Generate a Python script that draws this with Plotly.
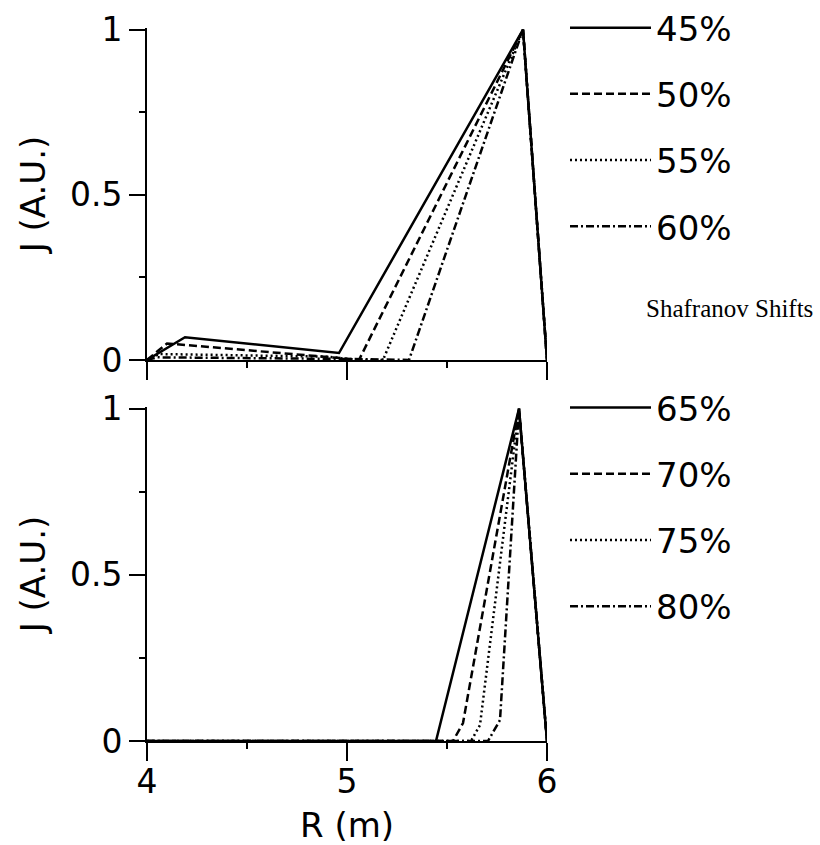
import plotly.graph_objects as go

# Top panel: Shafranov shifts 45-60 %
top_labels = ["45%", "50%", "55%", "60%"]
top_R = [
    [4.00, 4.19, 4.96, 5.88, 6.00],
    [4.00, 4.10, 4.98, 5.06, 5.88, 6.00],
    [4.00, 4.06, 4.90, 5.05, 5.18, 5.88, 6.00],
    [4.00, 4.05, 5.00, 5.31, 5.88, 6.00],
]
top_J = [
    [0.00, 0.069, 0.021, 1.00, 0.00],
    [0.00, 0.050, 0.005, 0.00, 1.00, 0.00],
    [0.00, 0.018, 0.010, 0.00, 0.00, 1.00, 0.00],
    [0.00, 0.008, 0.003, 0.00, 1.00, 0.00],
]

# Bottom panel: Shafranov shifts 65-80 %
bot_labels = ["65%", "70%", "75%", "80%"]
bot_R = [
    [4.00, 5.445, 5.86, 6.00],
    [4.00, 5.53, 5.58, 5.86, 6.00],
    [4.00, 5.62, 5.665, 5.86, 6.00],
    [4.00, 5.705, 5.765, 5.86, 6.00],
]
bot_J = [
    [0.00, 0.00, 1.00, 0.00],
    [0.00, 0.00, 0.054, 1.00, 0.00],
    [0.00, 0.00, 0.048, 1.00, 0.00],
    [0.00, 0.00, 0.063, 1.00, 0.00],
]

dashes = ["solid", "8px,4px", "2px,3px", "8px,3px,2px,3px"]

FONT = "DejaVu Sans"
fig = go.Figure()

for i in range(4):
    fig.add_trace(go.Scatter(
        x=top_R[i], y=top_J[i], mode="lines", name=top_labels[i],
        line=dict(color="black", width=2.5, dash=dashes[i]),
        xaxis="x", yaxis="y", legend="legend", legendgroup="t%d" % i))
for i in range(4):
    fig.add_trace(go.Scatter(
        x=bot_R[i], y=bot_J[i], mode="lines", name=bot_labels[i],
        line=dict(color="black", width=2.5, dash=dashes[i]),
        xaxis="x2", yaxis="y2", legend="legend2", legendgroup="b%d" % i))

common_x = dict(range=[4, 6], showline=True, linecolor="black", linewidth=2,
                ticks="outside", ticklen=18, tickwidth=2, tickcolor="black",
                tickvals=[4, 5, 6], showgrid=False, zeroline=False,
                minor=dict(tickvals=[4.5, 5.5], ticks="outside", ticklen=6,
                           tickwidth=2, tickcolor="black", showgrid=False),
                tickfont=dict(family=FONT, size=33, color="black"))
common_y = dict(range=[0, 1.005], showline=True, linecolor="black", linewidth=2,
                ticks="outside", ticklen=16, tickwidth=2, tickcolor="black",
                tickvals=[0, 0.5, 1], ticktext=["0", "0.5", "1"],
                showgrid=False, zeroline=False,
                minor=dict(tickvals=[0.25, 0.75], ticks="outside", ticklen=6,
                           tickwidth=2, tickcolor="black", showgrid=False),
                tickfont=dict(family=FONT, size=33, color="black"),
                title=dict(text="J (A.U.)", font=dict(family=FONT, size=34, color="black"),
                           standoff=14))

legend_common = dict(font=dict(family=FONT, size=34, color="black"),
                     itemwidth=81, tracegroupgap=19, bgcolor="rgba(0,0,0,0)",
                     xanchor="left", yanchor="top", itemclick=False)

fig.update_layout(
    width=820, height=845,
    margin=dict(l=147, r=273, t=28, b=104, autoexpand=False),
    paper_bgcolor="white", plot_bgcolor="white",
    xaxis=dict(common_x, anchor="y", showticklabels=False),
    yaxis=dict(common_y, domain=[0.5344, 1.0], anchor="x"),
    xaxis2=dict(common_x, anchor="y2", ticklabelstandoff=-8,
                title=dict(text="R (m)", font=dict(family=FONT, size=34, color="black"),
                           standoff=14)),
    yaxis2=dict(common_y, domain=[0.0, 0.4684], anchor="x2"),
    legend=dict(legend_common, x=1.045, y=1.0406),
    legend2=dict(legend_common, x=1.045, y=0.5077),
    annotations=[dict(text="Shafranov Shifts", xref="paper", yref="paper",
                      x=1.67, y=0.607, xanchor="right", yanchor="middle",
                      showarrow=False,
                      font=dict(family="Liberation Serif", size=25, color="black"))],
)

fig.write_html("out.html")
